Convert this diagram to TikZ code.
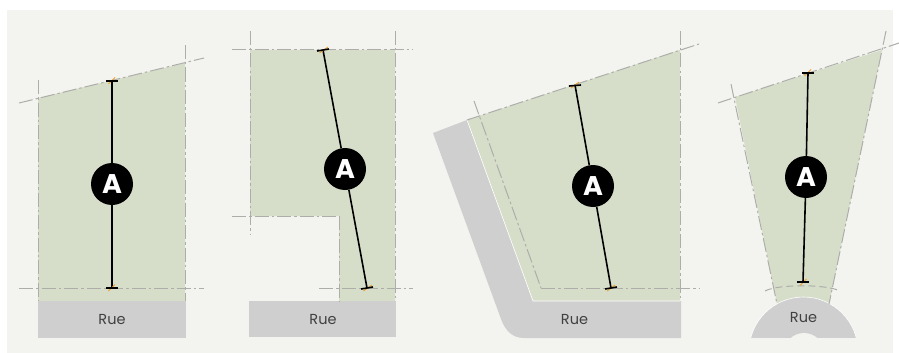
\documentclass[tikz,border=0pt]{standalone}
\usepackage{fontspec}
\setmainfont{Poppins}
\definecolor{panelbg}{HTML}{F3F4F0}
\definecolor{plot}{HTML}{D6DEC9}
\definecolor{road}{HTML}{CFCFCF}
\definecolor{guide}{HTML}{ADAEAA}
\definecolor{tickor}{HTML}{F0A030}
\tikzset{
  x=1pt,y=-1pt,
  plotarea/.style={fill=plot,draw=none},
  roadarea/.style={fill=road,draw=none},
  guideline/.style={draw=guide,line width=1pt,dash pattern=on 14pt off 3pt on 2.5pt off 3pt},
  dimline/.style={draw=black,line width=1.6pt},
  tickmark/.style={draw=tickor,line width=.9pt},
  badge/.style={circle,fill=black,text=white,minimum size=42pt,inner sep=0pt,font=\bfseries\fontsize{27}{27}\selectfont},
  roadlabel/.style={text=black!75,font=\fontsize{14.5}{14.5}\selectfont,inner sep=0pt},
}
\begin{document}
\begin{tikzpicture}
\useasboundingbox (0,0) rectangle (899,353);
\fill[white] (0,0) rectangle (899,353);
\fill[panelbg] (7,10) rectangle (893,353);

% Panel 1
\fill[plotarea] (38,98) -- (185,63) -- (185,301) -- (38,301) -- cycle;
\fill[roadarea] (38,301) rectangle (186,338);
\draw[guideline] (38,80) -- (38,301);
\draw[guideline] (185,45) -- (185,301);
\draw[guideline] (19,103) -- (204,58);
\draw[guideline] (19,288) -- (204,288);
\node[roadlabel] (rue1) at (112,320) {Rue};
\coordinate (a1t) at (112,81); \coordinate (a1b) at (112,288);
\node[badge] (a1) at (112,184) {A};
\draw[dimline] (a1t) -- (a1); \draw[dimline] (a1) -- (a1b);
\draw[tickmark] (108.5,84) -- (115,77.5) (108.5,291) -- (115,284.5);
\draw[dimline] (106,81) -- (118,81) (106,288) -- (118,288);

% Panel 2
\fill[plotarea] (250,50) -- (395,50) -- (395,301) -- (339,301) -- (339,216) -- (250,216) -- cycle;
\fill[roadarea] (249,301) rectangle (396,337);
\draw[guideline] (250,31) -- (250,235);
\draw[guideline] (395,31) -- (395,301);
\draw[guideline] (232,50) -- (413,50);
\draw[guideline] (232,216) -- (339,216);
\draw[guideline] (339,216) -- (339,301);
\draw[guideline] (319,288) -- (413,288);
\node[roadlabel] (rue2) at (323,320) {Rue};
\coordinate (a2t) at (323,50); \coordinate (a2b) at (367,288);
\node[badge] (a2) at (345,169) {A};
\draw[dimline] (a2t) -- (a2); \draw[dimline] (a2) -- (a2b);
\draw[tickmark] (319.5,53) -- (328,47) (363.5,291) -- (372,285);
\draw[dimline] (317,51) -- (329,49) (361,289) -- (373,287);

% Panel 3
\fill[roadarea] (433,133) -- (467,120) -- (533,301) -- (681,301) -- (681,338) -- (524,338)
  .. controls (512,338) and (505,330) .. (501,319) -- cycle;
\fill[plotarea] (467,120) -- (680,50) -- (680,301) -- (533,301) -- cycle;
\draw[white,line width=.6pt] (467,120) -- (533,301) -- (680,301);
\draw[guideline] (680,31) -- (680,301);
\draw[guideline] (467,120) -- (699,44);
\draw[guideline] (474,101) -- (541,288);
\draw[guideline] (541,288) -- (699,288);
\node[roadlabel] (rue3) at (574.5,320) {Rue};
\coordinate (a3t) at (575,85); \coordinate (a3b) at (611,288);
\node[badge] (a3) at (593,186) {A};
\draw[dimline] (a3t) -- (a3); \draw[dimline] (a3) -- (a3b);
\draw[tickmark] (571,88) -- (579,82) (607,291) -- (615,285);
\draw[dimline] (569,86) -- (581,85) (605,289) -- (617,287);

% Panel 4
\fill[plotarea] (735,97) -- (882,50) -- (829,304) -- (777,304) -- cycle;
\begin{scope}
  \clip (740,280) rectangle (870,337);
  \fill[road] (803.5,351.5) circle[radius=54.5pt];
  \draw[white,line width=.6pt] (803.5,351.5) circle[radius=54.5pt];
  \fill[panelbg] (804,353) circle[radius=20pt];
\end{scope}
\draw[guideline] (718,103) -- (899,43);
\draw[guideline] (731,84) -- (777,304);
\draw[guideline] (886,31) -- (829,304);
\draw[guideline,dash pattern=on 7pt off 4pt] (765,291) .. controls (778,284) and (826,284) .. (840,291);
\node[roadlabel] (rue4) at (803.5,318) {Rue};
\coordinate (a4t) at (808,73); \coordinate (a4b) at (803,282);
\node[badge] (a4) at (806,177) {A};
\draw[dimline] (a4t) -- (a4); \draw[dimline] (a4) -- (a4b);
\draw[tickmark] (804.5,76) -- (811,69.5) (800,285.5) -- (806.5,279);
\draw[dimline] (802,73) -- (814,73) (797,282) -- (809,282);
\end{tikzpicture}
\end{document}
